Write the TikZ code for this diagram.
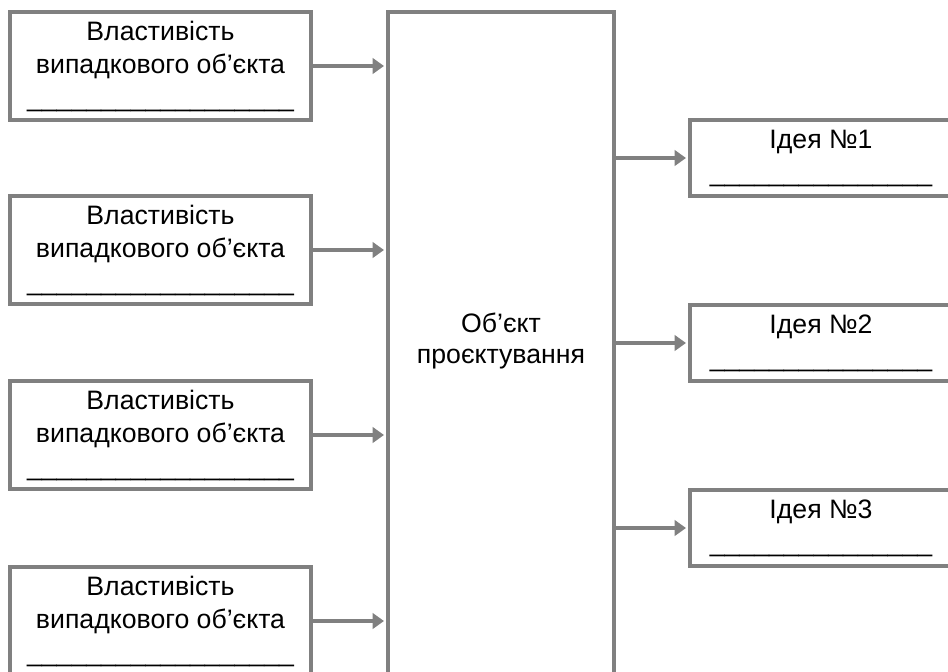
\documentclass[tikz,border=0pt]{standalone}
\usepackage{fontspec}
\setmainfont{Liberation Sans}
\usetikzlibrary{arrows.meta}

\tikzset{
  frame/.style={draw=black!50, line width=3pt, rectangle, inner sep=0pt},
  propbox/.style={frame, minimum width=225.75pt, minimum height=81pt, align=center},
  ideabox/.style={frame, minimum width=196.5pt, minimum height=57pt, align=center},
  link/.style={draw=black!50, line width=3pt, -{Triangle[length=8.5pt,width=11.5pt]}, shorten >=1.5pt}
}

\begin{document}
\begin{tikzpicture}[x=0.75pt,y=-0.75pt,font=\fontsize{20}{24.75}\selectfont]
    \useasboundingbox (0,0) rectangle (948,671);
    \clip (0,0) rectangle (948,671);

    % central object
    \node [frame, minimum width=169.5pt, minimum height=531pt] (obj) at (501,366) {};
    \node [align=center, font=\fontsize{20}{23.25}\selectfont] (objtext) at (501,341) {Об’єкт\\проєктування};

    % properties on the left
    \foreach \i/\y in {1/66,2/250,3/435,4/621}{%
        \node [propbox] (prop\i) at (160.5,\y) {Властивість\\випадкового об’єкта\\\_\_\_\_\_\_\_\_\_\_\_\_\_\_\_\_\_\_};
        \draw [link] (prop\i.east) -- (prop\i.east -| obj.west);}

    % ideas on the right
    \foreach \i/\y in {1/158,2/343,3/528}{%
        \node [ideabox] (idea\i) at (821,\y) {Ідея №\i\\\_\_\_\_\_\_\_\_\_\_\_\_\_\_\_};
        \draw [link] (obj.east |- idea\i.west) -- (idea\i.west);}
\end{tikzpicture}
\end{document}
